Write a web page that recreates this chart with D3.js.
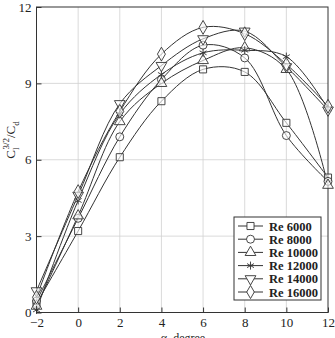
<!DOCTYPE html>
<html>
<head>
<meta charset="utf-8">
<script src="https://cdn.jsdelivr.net/npm/d3@7"></script>
<style>
  body { margin: 0; background: #fff; }
  svg text { font-family: "Liberation Serif", "DejaVu Serif", serif; fill: #222; }
</style>
</head>
<body>
<div id="chart"></div>
<script>
// angle of attack, degrees
var alphas = [-2, 0, 2, 4, 6, 8, 10, 12];

// Cl^1.5/Cd
var re6000  = [0.35, 3.2, 6.1, 8.3, 9.55, 9.45, 7.45, 5.3];
var re8000  = [0.45, 3.7, 6.9, 9.15, 10.5, 10.0, 6.95, 5.15];
var re10000 = [0.25, 3.8, 7.5, 9.0, 9.9, 10.4, 9.55, 5.0];
var re12000 = [0.1, 4.4, 7.8, 9.35, 10.2, 10.3, 10.05, 8.0];
var re14000 = [0.85, 4.6, 8.2, 9.7, 10.75, 11.05, 9.65, 7.95];
var re16000 = [0.6, 4.75, 7.9, 10.15, 11.2, 10.95, 9.75, 8.1];

var seriesNames = ["Re 6000", "Re 8000", "Re 10000", "Re 12000", "Re 14000", "Re 16000"];
var seriesVals = [re6000, re8000, re10000, re12000, re14000, re16000];
var symbols = [d3.symbolSquare, d3.symbolCircle, d3.symbolTriangle, d3.symbolAsterisk, "tridown", d3.symbolDiamond];

var xTicks = [-2, 0, 2, 4, 6, 8, 10, 12];
var yTicks = [0, 3, 6, 9, 12];

var width = 335, height = 338;
var margin = {left: 36.5, right: 7, top: 7, bottom: 25.5};

var svg = d3.select("#chart").append("svg")
    .attr("width", width)
    .attr("height", height);

var x = d3.scaleLinear().domain([-2, 12]).range([margin.left, width - margin.right]);
var y = d3.scaleLinear().domain([0, 12]).range([height - margin.bottom, margin.top]);

// grid
svg.append("g").selectAll("line.vx")
    .data(xTicks.slice(1, -1)).enter().append("line")
    .attr("x1", d => x(d)).attr("x2", d => x(d))
    .attr("y1", y(0)).attr("y2", y(12))
    .attr("stroke", "#d0d0d0").attr("stroke-width", 0.8);
svg.append("g").selectAll("line.hy")
    .data(yTicks.slice(1, -1)).enter().append("line")
    .attr("y1", d => y(d)).attr("y2", d => y(d))
    .attr("x1", x(-2)).attr("x2", x(12))
    .attr("stroke", "#d0d0d0").attr("stroke-width", 0.8);

// axes (ticks inside)
var xAxis = d3.axisBottom(x).tickValues(xTicks).tickSizeInner(-5).tickSizeOuter(0).tickPadding(5);
var yAxis = d3.axisLeft(y).tickValues(yTicks).tickSizeInner(-5).tickSizeOuter(0).tickPadding(5);

var gx = svg.append("g").attr("transform", "translate(0," + y(0) + ")").call(xAxis);
var gy = svg.append("g").attr("transform", "translate(" + x(-2) + ",0)").call(yAxis);
[gx, gy].forEach(function(g) {
    g.select(".domain").remove();
    g.selectAll(".tick line").attr("stroke", "#333");
    g.selectAll(".tick text").style("font-size", "13px").attr("fill", "#222");
});

// frame
svg.append("rect")
    .attr("x", x(-2)).attr("y", y(12))
    .attr("width", x(12) - x(-2)).attr("height", y(0) - y(12))
    .attr("fill", "none").attr("stroke", "#333").attr("stroke-width", 1);

var line = d3.line()
    .x((d, i) => x(alphas[i]))
    .y(d => y(d))
    .curve(d3.curveCatmullRom.alpha(0.5));

function symPath(s, size) {
    if (s === "tridown") return d3.symbol().type(d3.symbolTriangle).size(size)();
    return d3.symbol().type(s).size(size)();
}
function symTransform(s, px, py) {
    return "translate(" + px + "," + py + ")" + (s === "tridown" ? " rotate(180)" : "");
}

seriesVals.forEach(function(vals, k) {
    svg.append("path")
        .datum(vals)
        .attr("d", line)
        .attr("fill", "none")
        .attr("stroke", "#333")
        .attr("stroke-width", 1);
});

seriesVals.forEach(function(vals, k) {
    var s = symbols[k];
    var size = (s === d3.symbolAsterisk) ? 45 : (s === d3.symbolDiamond ? 55 : 50);
    svg.append("g").selectAll("path")
        .data(vals).enter().append("path")
        .attr("d", symPath(s, size))
        .attr("transform", (d, i) => symTransform(s, x(alphas[i]), y(d)))
        .attr("fill", s === d3.symbolAsterisk ? "none" : "#fff")
        .attr("fill-opacity", 0.6)
        .attr("stroke", "#333")
        .attr("stroke-width", 0.9);
});

// legend
var lg = svg.append("g").attr("transform", "translate(234,217)");
lg.append("rect")
    .attr("width", 87).attr("height", 83)
    .attr("fill", "#fff").attr("stroke", "#333").attr("stroke-width", 1);
seriesNames.forEach(function(name, k) {
    var ly = 9 + k * 13.2;
    var s = symbols[k];
    lg.append("line").attr("x1", 4).attr("x2", 29).attr("y1", ly).attr("y2", ly)
        .attr("stroke", "#333").attr("stroke-width", 1);
    lg.append("path")
        .attr("d", symPath(s, s === d3.symbolAsterisk ? 45 : 50))
        .attr("transform", symTransform(s, 16.5, ly))
        .attr("fill", s === d3.symbolAsterisk ? "none" : "#fff")
        .attr("stroke", "#333").attr("stroke-width", 0.9);
    lg.append("text").attr("x", 35).attr("y", ly + 4.5)
        .style("font-size", "12.5px").style("font-weight", "bold")
        .text(name);
});

// axis titles (the x title runs off the bottom edge, as in the source)
svg.append("text")
    .attr("x", 183).attr("y", 342)
    .attr("text-anchor", "middle")
    .style("font-size", "12px")
    .text("α, degree");

var yl = svg.append("text")
    .attr("transform", "translate(15,140) rotate(-90)")
    .attr("text-anchor", "middle")
    .style("font-size", "13px");
yl.append("tspan").text("C");
yl.append("tspan").attr("dy", 4).style("font-size", "9px").text("l");
yl.append("tspan").attr("dy", -10).attr("dx", -2).style("font-size", "9px").text("3/2");
yl.append("tspan").attr("dy", 6).text("/C");
yl.append("tspan").attr("dy", 4).style("font-size", "9px").text("d");
</script>
</body>
</html>
